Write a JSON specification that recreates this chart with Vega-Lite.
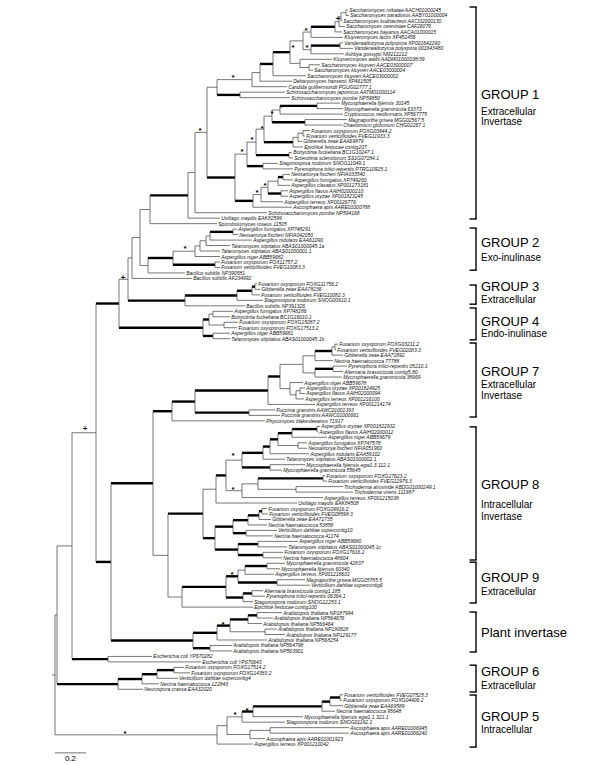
{
"$schema":"https://vega.github.io/schema/vega-lite/v6.json",
"width":600,"height":765,"padding":0,"autosize":{"type":"none"},"background":"white",
"config":{"view":{"stroke":null},"text":{"font":"Liberation Sans"}},
"datasets":{
"edges":[
{"a":346,"b":348,"p":1.5,"c":1,"w":"n","t":"Saccharomyces mikatae AACH01000245"},
{"a":346,"b":349,"p":1.5,"c":2,"w":"n","t":"Saccharomyces paradoxus AABY01000004"},
{"a":341,"b":346,"p":2.25,"c":1.5,"w":"n"},
{"a":341,"b":342,"p":2.25,"c":3,"w":"n","t":"Saccharomyces kudriavzevii AACI02000130"},
{"a":339,"b":341,"p":3.125,"c":2.25,"w":"n"},
{"a":339,"b":345,"p":3.125,"c":4,"w":"n","t":"Saccharomyces cerevisiae CAF26076"},
{"a":335,"b":339,"p":4.06,"c":3.125,"w":"n"},
{"a":335,"b":342,"p":4.06,"c":5,"w":"n","t":"Saccharomyces bayanus AACA01000015"},
{"a":311,"b":335,"p":5.03,"c":4.06,"w":"b"},
{"a":311,"b":343,"p":5.03,"c":6,"w":"n","t":"Kluyveromyces lactis XP451456"},
{"a":340,"b":343,"p":7.5,"c":7,"w":"n","t":"Vanderwaltozyma polyspora XP001642290"},
{"a":340,"b":353,"p":7.5,"c":8,"w":"n","t":"Vanderwaltozyma polyspora 001643480"},
{"a":311,"b":340,"p":8.25,"c":7.5,"w":"b"},
{"a":311,"b":344,"p":8.25,"c":9,"w":"n","t":"Ashbya gossypii NM212212"},
{"a":303,"b":311,"p":6.64,"c":5.03,"w":"n"},
{"a":303,"b":311,"p":6.64,"c":8.25,"w":"n"},
{"a":309,"b":320,"p":11.5,"c":11,"w":"n","t":"Saccharomyces kluyveri AACE03000007"},
{"a":309,"b":313,"p":11.5,"c":12,"w":"n","t":"Saccharomyces kluyveri AACE03000004"},
{"a":300,"b":332,"p":10.75,"c":10,"w":"n","t":"Kluyveromyces waltii AADM01000038/39"},
{"a":300,"b":309,"p":10.75,"c":11.5,"w":"n"},
{"a":290,"b":303,"p":8.7,"c":6.64,"w":"n"},
{"a":290,"b":300,"p":8.7,"c":10.75,"w":"n"},
{"a":273,"b":290,"p":10.85,"c":8.7,"w":"b"},
{"a":273,"b":306,"p":10.85,"c":13,"w":"n","t":"Saccharomyces kluyveri AACE03000002"},
{"a":260,"b":273,"p":12.43,"c":10.85,"w":"b"},
{"a":260,"b":292,"p":12.43,"c":14,"w":"n","t":"Debaryomyces hansenii XP461505"},
{"a":252,"b":260,"p":13.71,"c":12.43,"w":"n"},
{"a":252,"b":287,"p":13.71,"c":15,"w":"n","t":"Candida guilliermondii PGUG02777.1"},
{"a":240,"b":285,"p":16.5,"c":16,"w":"n","t":"Schizosaccharomyces japonicus AATM01000114"},
{"a":240,"b":290,"p":16.5,"c":17,"w":"n","t":"Schizosaccharomyces pombe NP59850"},
{"a":217,"b":252,"p":15.1,"c":13.71,"w":"n"},
{"a":217,"b":240,"p":15.1,"c":16.5,"w":"b"},
{"a":317,"b":340,"p":18.5,"c":18,"w":"n","t":"Mycosphaerella fijiensis 30145"},
{"a":317,"b":343,"p":18.5,"c":19,"w":"n","t":"Mycosphaerella graminicola 63373"},
{"a":280,"b":317,"p":19.25,"c":18.5,"w":"b"},
{"a":280,"b":343,"p":19.25,"c":20,"w":"n","t":"Cryptococcus neoformans XP567775"},
{"a":305,"b":347,"p":21.5,"c":21,"w":"n","t":"Magnaporthe grisea MGG02567.5"},
{"a":305,"b":342,"p":21.5,"c":22,"w":"n","t":"Chaetomium globosum CHG02267.1"},
{"a":272,"b":280,"p":20.375,"c":19.25,"w":"n"},
{"a":272,"b":305,"p":20.375,"c":21.5,"w":"b"},
{"a":303,"b":310,"p":23.5,"c":23,"w":"n","t":"Fusarium oxysporum FOXG03944.2"},
{"a":303,"b":305,"p":23.5,"c":24,"w":"n","t":"Fusarium verticillioides FVEG11933.3"},
{"a":298,"b":303,"p":24.25,"c":23.5,"w":"n"},
{"a":298,"b":302,"p":24.25,"c":25,"w":"n","t":"Gibberella zeae EAA69879"},
{"a":293,"b":298,"p":25.125,"c":24.25,"w":"n"},
{"a":293,"b":303,"p":25.125,"c":26,"w":"n","t":"Epichloë festucae contig207"},
{"a":264,"b":272,"p":22.75,"c":20.375,"w":"n"},
{"a":264,"b":293,"p":22.75,"c":25.125,"w":"b"},
{"a":289,"b":292,"p":27.5,"c":27,"w":"n","t":"Botryotinia fuckeliana BC1G10247.1"},
{"a":289,"b":293,"p":27.5,"c":28,"w":"n","t":"Sclerotinia sclerotiorum SS1G07184.1"},
{"a":256,"b":264,"p":25.125,"c":22.75,"w":"n"},
{"a":256,"b":289,"p":25.125,"c":27.5,"w":"b"},
{"a":263,"b":278,"p":29.5,"c":29,"w":"n","t":"Stagonospora nodorum SNOG11049.1"},
{"a":263,"b":293,"p":29.5,"c":30,"w":"n","t":"Pyrenophora tritici-repentis PTRG10925.1"},
{"a":247,"b":256,"p":27.31,"c":25.125,"w":"n"},
{"a":247,"b":263,"p":27.31,"c":29.5,"w":"b"},
{"a":283,"b":290,"p":31.5,"c":31,"w":"n","t":"Neosartorya fischeri NFIA033540"},
{"a":283,"b":293,"p":31.5,"c":32,"w":"n","t":"Aspergillus fumigatus XP749260"},
{"a":278,"b":283,"p":32.25,"c":31.5,"w":"b"},
{"a":278,"b":290,"p":32.25,"c":33,"w":"n","t":"Aspergillus clavatus XP001273181"},
{"a":281,"b":288,"p":34.5,"c":34,"w":"n","t":"Aspergillus flavus AAIH02000210"},
{"a":281,"b":288,"p":34.5,"c":35,"w":"n","t":"Aspergillus oryzae XP001823245"},
{"a":268,"b":278,"p":33.375,"c":32.25,"w":"n"},
{"a":268,"b":281,"p":33.375,"c":34.5,"w":"b"},
{"a":261,"b":268,"p":34.69,"c":33.375,"w":"n"},
{"a":261,"b":283,"p":34.69,"c":36,"w":"n","t":"Aspergillus terreus XP00126776"},
{"a":253,"b":261,"p":35.84,"c":34.69,"w":"n"},
{"a":253,"b":292,"p":35.84,"c":37,"w":"n","t":"Ascosphaera apis AARE01000788"},
{"a":235,"b":247,"p":31.58,"c":27.31,"w":"n"},
{"a":235,"b":253,"p":31.58,"c":35.84,"w":"b"},
{"a":207,"b":217,"p":23.34,"c":15.1,"w":"n"},
{"a":207,"b":235,"p":23.34,"c":31.58,"w":"b"},
{"a":195,"b":207,"p":30.67,"c":23.34,"w":"n"},
{"a":195,"b":267,"p":30.67,"c":38,"w":"n","t":"Schizosaccharomyces pombe NP594168"},
{"a":188,"b":195,"p":34.83,"c":30.67,"w":"n"},
{"a":188,"b":220,"p":34.83,"c":39,"w":"n","t":"Ustilago maydis EAK82599"},
{"a":150,"b":188,"p":37.42,"c":34.83,"w":"b"},
{"a":150,"b":217,"p":37.42,"c":40,"w":"n","t":"Sporobolomyces roseus 11505"},
{"a":233,"b":237,"p":41.5,"c":41,"w":"n","t":"Aspergillus fumigatus XP748291"},
{"a":233,"b":238,"p":41.5,"c":42,"w":"n","t":"Neosartorya fischeri NFIA042050"},
{"a":210,"b":233,"p":42.25,"c":41.5,"w":"b"},
{"a":210,"b":252,"p":42.25,"c":43,"w":"n","t":"Aspergillus nidulans EAA61090"},
{"a":206,"b":210,"p":43.125,"c":42.25,"w":"n"},
{"a":206,"b":230,"p":43.125,"c":44,"w":"n","t":"Talaromyces stipitatus ABAS01000045.1a"},
{"a":200,"b":206,"p":44.06,"c":43.125,"w":"n"},
{"a":200,"b":220,"p":44.06,"c":45,"w":"n","t":"Talaromyces stipitatus ABAS01000001.1"},
{"a":195,"b":200,"p":45.03,"c":44.06,"w":"n"},
{"a":195,"b":220,"p":45.03,"c":46,"w":"n","t":"Aspergillus niger ABB59682"},
{"a":215,"b":220,"p":47.5,"c":47,"w":"n","t":"Fusarium oxysporum FOX11757.2"},
{"a":215,"b":220,"p":47.5,"c":48,"w":"n","t":"Fusarium verticillioides FVEG10083.3"},
{"a":173,"b":195,"p":46.27,"c":45.03,"w":"n"},
{"a":173,"b":215,"p":46.27,"c":47.5,"w":"b"},
{"a":148,"b":173,"p":47.63,"c":46.27,"w":"b"},
{"a":148,"b":185,"p":47.63,"c":49,"w":"n","t":"Bacillus subtilis NP390581"},
{"a":140,"b":150,"p":42.53,"c":37.42,"w":"n"},
{"a":140,"b":148,"p":42.53,"c":47.63,"w":"n"},
{"a":132,"b":140,"p":46.26,"c":42.53,"w":"n"},
{"a":132,"b":192,"p":46.26,"c":50,"w":"n","t":"Bacillus subtilis AF234992"},
{"a":255,"b":257,"p":51.5,"c":51,"w":"n","t":"Fusarium oxysporum FOXG11756.2"},
{"a":255,"b":260,"p":51.5,"c":52,"w":"n","t":"Gibberella zeae EAA78236"},
{"a":252,"b":255,"p":52.25,"c":51.5,"w":"b"},
{"a":252,"b":260,"p":52.25,"c":53,"w":"n","t":"Fusarium verticillioides FVEG10082.3"},
{"a":237,"b":252,"p":53.125,"c":52.25,"w":"b"},
{"a":237,"b":263,"p":53.125,"c":54,"w":"n","t":"Stagonospora nodorum SNOG00610.1"},
{"a":185,"b":237,"p":54.06,"c":53.125,"w":"b"},
{"a":185,"b":245,"p":54.06,"c":55,"w":"n","t":"Bacillus subtilis NP391326"},
{"a":128,"b":132,"p":50.16,"c":46.26,"w":"n"},
{"a":128,"b":185,"p":50.16,"c":54.06,"w":"b"},
{"a":213,"b":233,"p":56.5,"c":56,"w":"n","t":"Aspergillus fumigatus XP748286"},
{"a":213,"b":230,"p":56.5,"c":57,"w":"n","t":"Botryotinia fuckeliana BC1G16010.1"},
{"a":224,"b":238,"p":58.5,"c":58,"w":"n","t":"Fusarium oxysporum FOXG15087.2"},
{"a":224,"b":237,"p":58.5,"c":59,"w":"n","t":"Fusarium oxysporum FOXG17513.2"},
{"a":209,"b":213,"p":57.5,"c":56.5,"w":"n"},
{"a":209,"b":224,"p":57.5,"c":58.5,"w":"n"},
{"a":213,"b":230,"p":60.5,"c":60,"w":"n","t":"Aspergillus niger ABB59681"},
{"a":213,"b":230,"p":60.5,"c":61,"w":"n","t":"Talaromyces stipitatus ABAS01000045.1b"},
{"a":203,"b":209,"p":59,"c":57.5,"w":"b"},
{"a":203,"b":213,"p":59,"c":60.5,"w":"b"},
{"a":119,"b":128,"p":54.58,"c":50.16,"w":"n"},
{"a":119,"b":203,"p":54.58,"c":59,"w":"b"},
{"a":335,"b":338,"p":62.5,"c":62,"w":"n","t":"Fusarium oxysporum FOXG03211.2"},
{"a":335,"b":336,"p":62.5,"c":63,"w":"n","t":"Fusarium verticillioides FVEG02083.3"},
{"a":332,"b":335,"p":63.25,"c":62.5,"w":"n"},
{"a":332,"b":343,"p":63.25,"c":64,"w":"n","t":"Gibberella zeae EAA71892"},
{"a":315,"b":332,"p":64.125,"c":63.25,"w":"b"},
{"a":315,"b":333,"p":64.125,"c":65,"w":"n","t":"Nectria haematococca 77788"},
{"a":333,"b":347,"p":66.5,"c":66,"w":"n","t":"Pyrenophora tritici-repentis 05210.1"},
{"a":333,"b":343,"p":66.5,"c":67,"w":"n","t":"Alternaria brassicicola contig5.80"},
{"a":315,"b":333,"p":67.25,"c":66.5,"w":"b"},
{"a":315,"b":342,"p":67.25,"c":68,"w":"n","t":"Mycosphaerella graminicola 38969"},
{"a":303,"b":315,"p":65.69,"c":64.125,"w":"n"},
{"a":303,"b":315,"p":65.69,"c":67.25,"w":"n"},
{"a":300,"b":305,"p":70.5,"c":70,"w":"n","t":"Aspergillus oryzae XP001824925"},
{"a":300,"b":305,"p":70.5,"c":71,"w":"n","t":"Aspergillus flavus AAIH02000094"},
{"a":296,"b":300,"p":71.25,"c":70.5,"w":"n"},
{"a":296,"b":304,"p":71.25,"c":72,"w":"n","t":"Aspergillus terreus XP001216100"},
{"a":290,"b":303,"p":70.125,"c":69,"w":"n","t":"Aspergillus niger ABB59678"},
{"a":290,"b":296,"p":70.125,"c":71.25,"w":"n"},
{"a":280,"b":303,"p":67.9,"c":65.69,"w":"n"},
{"a":280,"b":290,"p":67.9,"c":70.125,"w":"n"},
{"a":268,"b":280,"p":70.45,"c":67.9,"w":"b"},
{"a":268,"b":315,"p":70.45,"c":73,"w":"n","t":"Aspergillus terreus XP001214174"},
{"a":249,"b":275,"p":74.5,"c":74,"w":"n","t":"Puccinia graminis AAWC01001393"},
{"a":249,"b":280,"p":74.5,"c":75,"w":"n","t":"Puccinia graminis AAWC01000661"},
{"a":195,"b":268,"p":72.48,"c":70.45,"w":"b"},
{"a":195,"b":249,"p":72.48,"c":74.5,"w":"b"},
{"a":172,"b":195,"p":74.24,"c":72.48,"w":"b"},
{"a":172,"b":265,"p":74.24,"c":76,"w":"n","t":"Phycomyces blakesleeanus 71917"},
{"a":317,"b":320,"p":77.5,"c":77,"w":"n","t":"Aspergillus oryzae XP001822932"},
{"a":317,"b":318,"p":77.5,"c":78,"w":"n","t":"Aspergillus flavus AAIH02000012"},
{"a":292,"b":317,"p":78.25,"c":77.5,"w":"b"},
{"a":292,"b":327,"p":78.25,"c":79,"w":"n","t":"Aspergillus niger ABB59679"},
{"a":298,"b":307,"p":80.5,"c":80,"w":"n","t":"Aspergillus fumigatus XP747578"},
{"a":298,"b":307,"p":80.5,"c":81,"w":"n","t":"Neosartorya fischeri NFIA051960"},
{"a":278,"b":292,"p":79.375,"c":78.25,"w":"b"},
{"a":278,"b":298,"p":79.375,"c":80.5,"w":"n"},
{"a":270,"b":278,"p":80.69,"c":79.375,"w":"b"},
{"a":270,"b":309,"p":80.69,"c":82,"w":"n","t":"Aspergillus nidulans EAA59102"},
{"a":263,"b":270,"p":81.84,"c":80.69,"w":"b"},
{"a":263,"b":285,"p":81.84,"c":83,"w":"n","t":"Talaromyces stipitatus ABAS01000002.1"},
{"a":270,"b":305,"p":84.5,"c":84,"w":"n","t":"Mycosphaerella fijiensis egw1.3.112.1"},
{"a":270,"b":282,"p":84.5,"c":85,"w":"n","t":"Mycosphaerella graminicola 55645"},
{"a":242,"b":263,"p":83.17,"c":81.84,"w":"b"},
{"a":242,"b":270,"p":83.17,"c":84.5,"w":"b"},
{"a":323,"b":325,"p":86.5,"c":86,"w":"n","t":"Fusarium oxysporum FOXG17623.2"},
{"a":323,"b":327,"p":86.5,"c":87,"w":"n","t":"Fusarium verticillioides FVEG12976.3"},
{"a":296,"b":343,"p":88.5,"c":88,"w":"n","t":"Trichoderma atroviride ABDG01000249.1"},
{"a":296,"b":353,"p":88.5,"c":89,"w":"n","t":"Trichoderma virens 111987"},
{"a":258,"b":323,"p":87.5,"c":86.5,"w":"b"},
{"a":258,"b":296,"p":87.5,"c":88.5,"w":"n"},
{"a":242,"b":258,"p":88.75,"c":87.5,"w":"n"},
{"a":242,"b":323,"p":88.75,"c":90,"w":"n","t":"Aspergillus terreus XP001215038"},
{"a":226,"b":242,"p":85.96,"c":83.17,"w":"n"},
{"a":226,"b":242,"p":85.96,"c":88.75,"w":"n"},
{"a":216,"b":226,"p":88.48,"c":85.96,"w":"b"},
{"a":216,"b":297,"p":88.48,"c":91,"w":"n","t":"Ustilago maydis EAK84508"},
{"a":262,"b":267,"p":92.5,"c":92,"w":"n","t":"Fusarium oxysporum FOXG09916.2"},
{"a":262,"b":268,"p":92.5,"c":93,"w":"n","t":"Fusarium verticillioides FVEG08598.3"},
{"a":259,"b":262,"p":93.25,"c":92.5,"w":"b"},
{"a":259,"b":271,"p":93.25,"c":94,"w":"n","t":"Gibberella zeae EAA72735"},
{"a":248,"b":259,"p":94.125,"c":93.25,"w":"b"},
{"a":248,"b":267,"p":94.125,"c":95,"w":"n","t":"Nectria haematococca 53858"},
{"a":246,"b":277,"p":96.5,"c":96,"w":"n","t":"Verticillium dahliae supercontig10"},
{"a":246,"b":273,"p":96.5,"c":97,"w":"n","t":"Nectria haematococca 41174"},
{"a":233,"b":248,"p":95.31,"c":94.125,"w":"b"},
{"a":233,"b":246,"p":95.31,"c":96.5,"w":"b"},
{"a":258,"b":298,"p":98.5,"c":98,"w":"n","t":"Aspergillus niger ABB59680"},
{"a":258,"b":287,"p":98.5,"c":99,"w":"n","t":"Talaromyces stipitatus ABAS01000045.1c"},
{"a":263,"b":283,"p":100.5,"c":100,"w":"n","t":"Fusarium oxysporum FOXG17616.2"},
{"a":263,"b":282,"p":100.5,"c":101,"w":"n","t":"Nectria haematococca 48604"},
{"a":238,"b":258,"p":99.5,"c":98.5,"w":"b"},
{"a":238,"b":263,"p":99.5,"c":100.5,"w":"b"},
{"a":215,"b":233,"p":97.41,"c":95.31,"w":"b"},
{"a":215,"b":238,"p":97.41,"c":99.5,"w":"b"},
{"a":203,"b":216,"p":92.94,"c":88.48,"w":"n"},
{"a":203,"b":215,"p":92.94,"c":97.41,"w":"b"},
{"a":267,"b":285,"p":102.5,"c":102,"w":"n","t":"Mycosphaerella graminicola 42837"},
{"a":267,"b":280,"p":102.5,"c":103,"w":"n","t":"Mycosphaerella fijiensis 60340"},
{"a":245,"b":267,"p":103.25,"c":102.5,"w":"b"},
{"a":245,"b":274,"p":103.25,"c":104,"w":"n","t":"Aspergillus terreus XP001218601"},
{"a":277,"b":305,"p":105.5,"c":105,"w":"n","t":"Magnaporthe grisea MGG05785.5"},
{"a":277,"b":310,"p":105.5,"c":106,"w":"n","t":"Verticillium dahliae supercontig6"},
{"a":238,"b":245,"p":104.375,"c":103.25,"w":"n"},
{"a":238,"b":277,"p":104.375,"c":105.5,"w":"b"},
{"a":252,"b":263,"p":107.5,"c":107,"w":"n","t":"Alternaria brassicicola contig1.185"},
{"a":252,"b":265,"p":107.5,"c":108,"w":"n","t":"Pyrenophora tritici-repentis 06364.1"},
{"a":243,"b":252,"p":108.25,"c":107.5,"w":"b"},
{"a":243,"b":253,"p":108.25,"c":109,"w":"n","t":"Stagonospora nodorum SNOG12253.1"},
{"a":226,"b":238,"p":106.31,"c":104.375,"w":"b"},
{"a":226,"b":243,"p":106.31,"c":108.25,"w":"b"},
{"a":182,"b":226,"p":108.16,"c":106.31,"w":"b"},
{"a":182,"b":253,"p":108.16,"c":110,"w":"n","t":"Epichloë festucae contig100"},
{"a":168,"b":203,"p":100.55,"c":92.94,"w":"b"},
{"a":168,"b":182,"p":100.55,"c":108.16,"w":"n"},
{"a":153,"b":172,"p":87.4,"c":74.24,"w":"b"},
{"a":153,"b":168,"p":87.4,"c":100.55,"w":"n"},
{"a":257,"b":282,"p":111.5,"c":111,"w":"n","t":"Arabidopsis thaliana NP187994"},
{"a":257,"b":273,"p":111.5,"c":112,"w":"n","t":"Arabidopsis thaliana NP564676"},
{"a":248,"b":257,"p":112.25,"c":111.5,"w":"b"},
{"a":248,"b":262,"p":112.25,"c":113,"w":"n","t":"Arabidopsis thaliana NP566464"},
{"a":265,"b":277,"p":114.5,"c":114,"w":"n","t":"Arabidopsis thaliana NP190828"},
{"a":265,"b":285,"p":114.5,"c":115,"w":"n","t":"Arabidopsis thaliana NP129177"},
{"a":230,"b":248,"p":113.375,"c":112.25,"w":"b"},
{"a":230,"b":265,"p":113.375,"c":114.5,"w":"n"},
{"a":217,"b":230,"p":114.69,"c":113.375,"w":"b"},
{"a":217,"b":267,"p":114.69,"c":116,"w":"n","t":"Arabidopsis thaliana NP568254"},
{"a":210,"b":232,"p":117.5,"c":117,"w":"n","t":"Arabidopsis thaliana NP564798"},
{"a":210,"b":232,"p":117.5,"c":118,"w":"n","t":"Arabidopsis thaliana NP563901"},
{"a":193,"b":217,"p":116.1,"c":114.69,"w":"b"},
{"a":193,"b":210,"p":116.1,"c":117.5,"w":"b"},
{"a":111,"b":153,"p":101.75,"c":87.4,"w":"b"},
{"a":111,"b":193,"p":101.75,"c":116.1,"w":"b"},
{"a":96,"b":119,"p":78.17,"c":54.58,"w":"b"},
{"a":96,"b":111,"p":78.17,"c":101.75,"w":"b"},
{"a":108,"b":152,"p":119.5,"c":119,"w":"n","t":"Escherichia coli YP670282"},
{"a":108,"b":201,"p":119.5,"c":120,"w":"n","t":"Escherichia coli YP670643"},
{"a":72,"b":96,"p":98.83,"c":78.17,"w":"n"},
{"a":72,"b":108,"p":98.83,"c":119.5,"w":"b"},
{"a":174,"b":184,"p":121.5,"c":121,"w":"n","t":"Fusarium oxysporum FOXG17514.2"},
{"a":174,"b":190,"p":121.5,"c":122,"w":"n","t":"Fusarium oxysporum FOXG14383.2"},
{"a":157,"b":174,"p":122.25,"c":121.5,"w":"b"},
{"a":157,"b":178,"p":122.25,"c":123,"w":"n","t":"Verticillium dahliae supercontig4"},
{"a":142,"b":157,"p":123.125,"c":122.25,"w":"b"},
{"a":142,"b":159,"p":123.125,"c":124,"w":"n","t":"Nectria haematococca 122843"},
{"a":118,"b":142,"p":124.06,"c":123.125,"w":"b"},
{"a":118,"b":143,"p":124.06,"c":125,"w":"n","t":"Neurospora crassa EAA32020"},
{"a":57,"b":72,"p":111.45,"c":98.83,"w":"n"},
{"a":57,"b":118,"p":111.45,"c":124.06,"w":"b"},
{"a":340,"b":343,"p":126.5,"c":126,"w":"n","t":"Fusarium verticillioides FVEG07525.3"},
{"a":340,"b":342,"p":126.5,"c":127,"w":"n","t":"Fusarium oxysporum FOXG04406.2"},
{"a":330,"b":340,"p":127.25,"c":126.5,"w":"b"},
{"a":330,"b":343,"p":127.25,"c":128,"w":"n","t":"Gibberella zeae EAA69589"},
{"a":322,"b":330,"p":128.125,"c":127.25,"w":"b"},
{"a":322,"b":335,"p":128.125,"c":129,"w":"n","t":"Nectria haematococca 95648"},
{"a":253,"b":322,"p":129.06,"c":128.125,"w":"b"},
{"a":253,"b":303,"p":129.06,"c":130,"w":"n","t":"Mycosphaerella fijiensis egw1.1.321.1"},
{"a":242,"b":253,"p":130.03,"c":129.06,"w":"b"},
{"a":242,"b":285,"p":130.03,"c":131,"w":"n","t":"Stagonospora nodorum SNOG01192.1"},
{"a":270,"b":349,"p":132.5,"c":132,"w":"n","t":"Ascosphaera apis AARE01006945"},
{"a":270,"b":349,"p":132.5,"c":133,"w":"n","t":"Ascosphaera apis AARE01006240"},
{"a":250,"b":270,"p":133.25,"c":132.5,"w":"n"},
{"a":250,"b":265,"p":133.25,"c":134,"w":"n","t":"Ascosphaera apis AARE01001923"},
{"a":227,"b":242,"p":131.64,"c":130.03,"w":"n"},
{"a":227,"b":250,"p":131.64,"c":133.25,"w":"n"},
{"a":217,"b":227,"p":133.32,"c":131.64,"w":"n"},
{"a":217,"b":253,"p":133.32,"c":135,"w":"n","t":"Aspergillus terreus XP001210042"},
{"a":55,"b":57,"p":122.39,"c":111.45,"w":"n"},
{"a":55,"b":217,"p":122.39,"c":133.32,"w":"n"},
{"a":52,"b":55,"p":122.39,"c":122.39,"w":"n"}
],
"stars":[
{"x":233,"y":13.2,"s":"*"},{"x":200,"y":22.9,"s":"*"},{"x":293,"y":7.75,"s":"*"},{"x":306,"y":4.65,"s":"*"},{"x":307,"y":7.75,"s":"*"},{"x":338,"y":2.3,"s":"+"},
{"x":281,"y":18.7,"s":"*"},{"x":272,"y":19.8,"s":"*"},{"x":262,"y":22.4,"s":"*"},{"x":252,"y":24.4,"s":"*"},{"x":242,"y":26.7,"s":"*"},
{"x":265,"y":32.9,"s":"*"},{"x":257,"y":34.2,"s":"*"},{"x":185,"y":44.3,"s":"*"},{"x":123,"y":49.6,"s":"+"},{"x":85,"y":77.3,"s":"+"},
{"x":233,"y":82.2,"s":"*"},{"x":233,"y":88.4,"s":"*"},{"x":232,"y":103.8,"s":"*"},{"x":223,"y":112.9,"s":"*"},{"x":235,"y":129.5,"s":"*"},{"x":247,"y":128.6,"s":"*"},{"x":125,"y":132.8,"s":"*"}
],
"brackets":[
{"g":"GROUP 1","y0":0.45,"y1":39.15},{"g":"GROUP 2","y0":40.8,"y1":48.5},{"g":"GROUP 3","y0":51.2,"y1":54.7},{"g":"GROUP 4","y0":55.4,"y1":61.2},{"g":"GROUP 7","y0":61.8,"y1":75.3},{"g":"GROUP 8","y0":77.1,"y1":101.4},{"g":"GROUP 9","y0":101.8,"y1":109.25},{"g":"Plant","y0":110.9,"y1":118.2},{"g":"GROUP 6","y0":120.6,"y1":125.5},{"g":"GROUP 5","y0":126.05,"y1":135.55}
],
"notes":[
{"t":"GROUP 1","y":16.5,"k":"title"},{"t":"Extracellular","y":19.6,"k":"sub"},{"t":"Invertase","y":21.4,"k":"sub"},
{"t":"GROUP 2","y":43.5,"k":"title"},{"t":"Exo-inulinase","y":46.3,"k":"sub"},
{"t":"GROUP 3","y":51.6,"k":"title"},{"t":"Extracellular","y":54.0,"k":"sub"},
{"t":"GROUP 4","y":57.95,"k":"title"},{"t":"Endo-inulinase","y":60.15,"k":"sub"},
{"t":"GROUP 7","y":67.1,"k":"title"},{"t":"Extracellular","y":69.45,"k":"sub"},{"t":"Invertase","y":71.45,"k":"sub"},
{"t":"GROUP 8","y":87.7,"k":"title"},{"t":"Intracellular","y":91.35,"k":"sub"},{"t":"Invertase","y":93.55,"k":"sub"},
{"t":"GROUP 9","y":104.6,"k":"title"},{"t":"Extracellular","y":107.2,"k":"sub"},
{"t":"Plant invertase","y":114.7,"k":"title"},
{"t":"GROUP 6","y":121.9,"k":"title"},{"t":"Extracellular","y":124.35,"k":"sub"},
{"t":"GROUP 5","y":130.05,"k":"title"},{"t":"Intracellular","y":132.4,"k":"sub"}
],
"scalebar":[{"from":55,"to":86,"y":136.6,"label":"0.2","ly":137.8}]
},
"layer":[
{"data":{"name":"edges"},"mark":{"type":"rule"},
 "encoding":{
  "x":{"field":"a","type":"quantitative","scale":{"domain":[0,600],"nice":false,"zero":false},"axis":null},
  "x2":{"field":"b"},
  "y":{"field":"c","type":"quantitative","scale":{"domain":[-0.8255,138.82],"nice":false,"zero":false,"reverse":true},"axis":null},
  "strokeWidth":{"field":"w","type":"nominal","scale":{"domain":["b","n"],"range":[2.4,0.75]},"legend":null},
  "color":{"field":"w","type":"nominal","scale":{"domain":["b","n"],"range":["#000000","#4a4a4a"]},"legend":null}}},
{"data":{"name":"edges"},"mark":{"type":"rule","color":"#4a4a4a","strokeWidth":0.75},
 "encoding":{
  "x":{"field":"a","type":"quantitative"},
  "y":{"field":"p","type":"quantitative"},
  "y2":{"field":"c"}}},
{"data":{"name":"edges"},"transform":[{"filter":"isValid(datum.t)"}],
 "mark":{"type":"text","align":"left","baseline":"middle","dx":1.2,"fontSize":5,"fontStyle":"italic","color":"#111"},
 "encoding":{
  "x":{"field":"b","type":"quantitative"},
  "y":{"field":"c","type":"quantitative"},
  "text":{"field":"t"}}},
{"data":{"name":"stars"},"mark":{"type":"text","align":"center","baseline":"middle","fontSize":8,"fontWeight":"bold","dy":1.5,"color":"#000"},
 "encoding":{
  "x":{"field":"x","type":"quantitative"},
  "y":{"field":"y","type":"quantitative"},
  "text":{"field":"s"}}},
{"data":{"name":"brackets"},"mark":{"type":"rule","color":"#000","strokeWidth":1.4},
 "encoding":{"x":{"datum":476,"type":"quantitative"},"y":{"field":"y0","type":"quantitative"},"y2":{"field":"y1"}}},
{"data":{"name":"brackets"},"mark":{"type":"rule","color":"#000","strokeWidth":1.4},
 "encoding":{"x":{"datum":469.5,"type":"quantitative"},"x2":{"datum":476.7},"y":{"field":"y0","type":"quantitative"}}},
{"data":{"name":"brackets"},"mark":{"type":"rule","color":"#000","strokeWidth":1.4},
 "encoding":{"x":{"datum":469.5,"type":"quantitative"},"x2":{"datum":476.7},"y":{"field":"y1","type":"quantitative"}}},
{"data":{"name":"notes"},"transform":[{"filter":"datum.k == 'title'"}],
 "mark":{"type":"text","align":"left","baseline":"middle","fontSize":13,"color":"#000"},
 "encoding":{"x":{"datum":481,"type":"quantitative"},"y":{"field":"y","type":"quantitative"},"text":{"field":"t"}}},
{"data":{"name":"notes"},"transform":[{"filter":"datum.k == 'sub'"}],
 "mark":{"type":"text","align":"left","baseline":"middle","fontSize":10,"color":"#000"},
 "encoding":{"x":{"datum":481,"type":"quantitative"},"y":{"field":"y","type":"quantitative"},"text":{"field":"t"}}},
{"data":{"name":"scalebar"},"mark":{"type":"rule","color":"#888","strokeWidth":1.2},
 "encoding":{"x":{"field":"from","type":"quantitative"},"x2":{"field":"to"},"y":{"field":"y","type":"quantitative"}}},
{"data":{"name":"scalebar"},"mark":{"type":"text","align":"center","baseline":"middle","fontSize":8,"color":"#000"},
 "encoding":{"x":{"datum":70.5,"type":"quantitative"},"y":{"field":"ly","type":"quantitative"},"text":{"field":"label"}}}
]
}
